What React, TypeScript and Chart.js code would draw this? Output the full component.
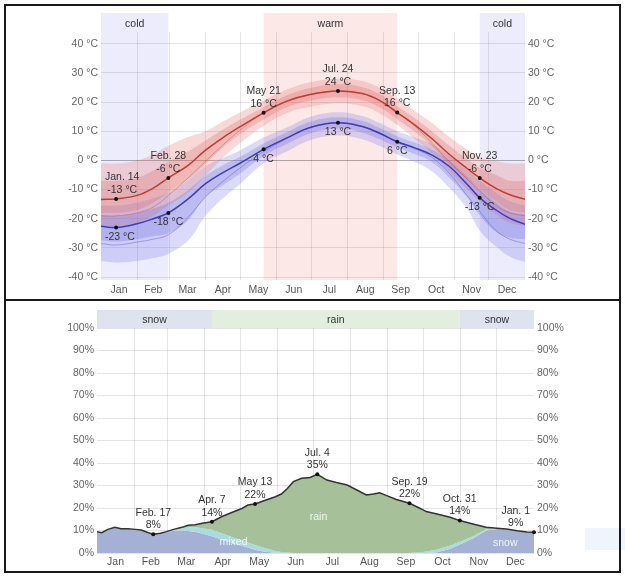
import React, { useEffect, useRef } from "react";
import { Chart, registerables } from "chart.js";

Chart.register(...registerables);

const FONT = '"Liberation Sans", Arial, Helvetica, sans-serif';
Chart.defaults.font.family = FONT;
Chart.defaults.font.size = 10.5;

// ---------- calendar ----------
const MONTHS = ["Jan", "Feb", "Mar", "Apr", "May", "Jun", "Jul", "Aug", "Sep", "Oct", "Nov", "Dec"];
const MONTH_BOUNDS = [31, 59, 90, 120, 151, 181, 212, 243, 273, 304, 334];
const MONTH_MIDS = [15.5, 45, 74.5, 105, 135.5, 166, 196.5, 227.5, 258, 288.5, 319, 349.5];

// ---------- temperature (°C) ----------
const TEMP_TICKS = [-40, -30, -20, -10, 0, 10, 20, 30, 40];
const TEMP_DAYS = [0, 13, 31, 45, 58, 75, 90, 105, 120, 140, 160, 180, 204, 225, 240, 255, 270, 285, 300, 315, 326, 340, 352, 365];
const HIGH = [-13.4, -13.2, -12, -9.5, -6, -1.7, 3.5, 7.8, 11.6, 16.3, 20.3, 22.6, 23.8, 22.9, 20.5, 16.4, 12.2, 7.4, 2, -2.7, -6, -9.6, -11.8, -13.3];
const HIGH_P90 = [-1, -1, 0, 2, 5, 8, 10, 13.3, 16.5, 20.5, 24.3, 26.8, 28, 27.2, 24.8, 21, 17, 12.8, 8, 3.8, 1, -0.3, -1, -1];
const HIGH_P75 = [-7, -7, -6, -3.5, -0.5, 3, 6.8, 10.6, 14, 18.2, 22.3, 24.8, 26.1, 25.1, 22.7, 18.6, 14.5, 9.9, 5, 0.5, -2.5, -5, -7, -7];
const HIGH_P25 = [-18, -18, -17, -14.5, -11, -6.5, -1.2, 4.4, 9, 14, 18.2, 20.4, 21.6, 20.6, 18.2, 14.1, 9.8, 4.8, -1.3, -6.5, -10, -14, -17, -18];
const HIGH_P10 = [-22.5, -22.5, -21.5, -19, -15.5, -11, -5.2, 0.9, 6, 11.8, 16.2, 18.4, 19.5, 18.6, 16.1, 12.1, 7.4, 2.4, -4, -10, -14, -18.5, -21.5, -22.5];
const LOW = [-22.6, -23, -21.7, -20, -18, -13.2, -8, -4.2, -0.9, 3.8, 7.7, 11.3, 12.9, 11.6, 9.3, 6.4, 4.3, 1.8, -2.1, -8.1, -12.8, -17, -19.9, -21.9];
const LOW_P90 = [-15.5, -15.5, -14.5, -13, -11, -6.7, -2, 0.8, 3.5, 7.8, 11.3, 14.9, 16.5, 15.2, 12.8, 10, 7.9, 5.4, 1.5, -3, -7, -11, -14, -15.5];
const LOW_P75 = [-18.8, -19, -18, -16.5, -14.5, -10.2, -5.3, -1.7, 1.3, 5.8, 9.6, 13.2, 14.8, 13.5, 11.1, 8.3, 6.1, 3.6, -0.2, -5.5, -10, -14.5, -17.5, -18.5];
const LOW_P25 = [-27.5, -27.8, -27, -26, -25, -20.5, -12.5, -8.5, -4.5, 1.5, 5.6, 9.2, 10.8, 9.5, 7.2, 4.4, 2.2, -0.6, -6, -12.5, -18.8, -24.5, -26.5, -27];
const LOW_P10 = [-34.5, -35, -34.5, -33.5, -32, -27.5, -19, -13, -8, -1, 3, 6.9, 8.5, 7.2, 4.9, 2, -0.5, -3.8, -9.5, -16.5, -24, -29.5, -33, -34.8];
const FEELS_HIGH = [-19, -19, -18, -16, -12, -6, -0.3, 5.3, 10.5, 16.3, 20.3, 22.6, 23.8, 22.9, 20.5, 16.4, 11.8, 5.8, -0.5, -6.3, -10.5, -15.5, -18, -19];
const FEELS_LOW = [-28.5, -29, -28, -27, -25.5, -19.5, -12.5, -7.2, -2.5, 3, 7.5, 11.3, 12.9, 11.6, 9.1, 6.2, 4, 1, -4.5, -12, -17.5, -24, -27, -28.5];

const TEMP_MARK_DAYS = [13, 58, 140, 204, 255, 326];
const TEMP_MARK_DATES = ["Jan. 14", "Feb. 28", "May 21", "Jul. 24", "Sep. 13", "Nov. 23"];

const TEMP_SEASONS = [
  { label: "cold", from: 0, to: 58 },
  { label: "warm", from: 140, to: 255 },
  { label: "cold", from: 326, to: 365 },
];

// ---------- precipitation (% chance) ----------
const PCT_TICKS = [0, 10, 20, 30, 40, 50, 60, 70, 80, 90, 100];
const PRECIP_DAYS = [0, 4, 9, 15, 20, 26, 32, 37, 43, 47, 53, 58, 64, 71, 76, 82, 88, 96, 104, 112, 121, 126, 132, 140, 149, 154, 159, 164, 171, 178, 184, 192, 200, 209, 217, 225, 231, 236, 242, 250, 261, 270, 275, 284, 295, 303, 314, 325, 334, 342, 351, 359, 365];
const PRECIP_TOTAL = [9.5, 9.0, 10.5, 11.4, 10.8, 10.8, 10.5, 10.2, 9.0, 8.3, 8.8, 9.5, 10.5, 11.4, 12.3, 12.6, 13.2, 13.9, 16.1, 17.9, 19.8, 21.3, 21.8, 23.3, 25.0, 26.2, 28.7, 31.7, 33.2, 33.6, 35.0, 32.4, 31.3, 30.2, 28.0, 25.8, 26.2, 26.8, 25.5, 23.8, 22.1, 19.8, 18.4, 17.3, 15.9, 14.4, 12.9, 11.4, 11.0, 10.7, 9.9, 9.3, 9.2];
const PRECIP_SNOW = [9.5, 9.0, 10.5, 11.4, 10.8, 10.8, 10.5, 10.2, 9.0, 8.3, 8.8, 9.3, 9.9, 10.0, 9.8, 9.4, 8.6, 7.5, 6.0, 4.6, 3.2, 2.4, 1.5, 0.6, 0.1, 0, 0, 0, 0, 0, 0, 0, 0, 0, 0, 0, 0, 0, 0, 0, 0, 0, 0, 0.3, 1.9, 3.8, 6.5, 10.0, 10.7, 10.7, 9.9, 9.3, 9.2];
const PRECIP_MIXED = [0, 0, 0, 0, 0, 0, 0, 0, 0, 0, 0, 0.2, 0.5, 1.0, 1.6, 2.0, 2.4, 2.8, 2.8, 2.6, 2.4, 2.3, 2.1, 1.6, 0.8, 0.4, 0.2, 0, 0, 0, 0, 0, 0, 0, 0, 0, 0, 0, 0, 0, 0, 0.3, 0.7, 1.3, 1.4, 1.2, 0.9, 0.6, 0.3, 0, 0, 0, 0];

const PRECIP_MARK_DAYS = [47, 96, 132, 184, 261, 303, 365];
const PRECIP_MARK_DATES = ["Feb. 17", "Apr. 7", "May 13", "Jul. 4", "Sep. 19", "Oct. 31", "Jan. 1"];

const PRECIP_SEASONS = [
  { label: "snow", from: 0, to: 96, kind: "snow" },
  { label: "rain", from: 96, to: 303, kind: "rain" },
  { label: "snow", from: 303, to: 365, kind: "snow" },
];

const AREA_LABELS = [
  { text: "mixed", day: 114, pct: 4.8 },
  { text: "rain", day: 185, pct: 16 },
  { text: "snow", day: 341, pct: 4.5 },
];

// ---------- styles ----------
const COLD_BG = "#ececfd";
const WARM_BG = "#fde8e8";
const SNOW_BG = "#dfe3ef";
const RAIN_BG = "#e2efdf";
const GRID = "rgba(0,0,0,0.1)";

const pts = (xs: number[], ys: number[]) => xs.map((x, i) => ({ x, y: ys[i] }));

type Mark = { day: number; value: number; title?: string; text: string; below?: boolean };

function drawMarks(chart: any, marks: Mark[]) {
  const { ctx, chartArea, scales } = chart;
  const x = scales.x;
  const y = scales.y;
  ctx.save();
  ctx.font = `10.5px ${FONT}`;
  ctx.textAlign = "center";
  ctx.textBaseline = "middle";
  for (const m of marks) {
    const px = x.getPixelForValue(m.day);
    const py = y.getPixelForValue(m.value);
    ctx.fillStyle = "#111";
    ctx.beginPath();
    ctx.arc(px, py, 2, 0, Math.PI * 2);
    ctx.fill();
    const lines = m.below ? [m.text] : [m.title || "", m.text];
    const w = Math.max(...lines.map((l) => ctx.measureText(l).width));
    const cx = Math.min(Math.max(px, chartArea.left + 4 + w / 2), chartArea.right - 4 - w / 2);
    ctx.fillStyle = "#333";
    if (m.below) {
      ctx.fillText(m.text, cx, py + 9.5);
    } else {
      ctx.fillText(m.title || "", cx, py - 21.5);
      ctx.fillText(m.text, cx, py - 9);
    }
  }
  ctx.restore();
}

const tempDecor = {
  id: "tempDecor",
  beforeDraw(chart: any) {
    const { ctx, chartArea, scales } = chart;
    const x = scales.x;
    ctx.save();
    for (const s of TEMP_SEASONS) {
      const x0 = x.getPixelForValue(s.from);
      const x1 = x.getPixelForValue(s.to);
      ctx.fillStyle = s.label === "cold" ? COLD_BG : WARM_BG;
      ctx.fillRect(x0, chartArea.top - 19, x1 - x0, chartArea.bottom - chartArea.top + 19);
      ctx.fillStyle = "#333";
      ctx.font = `10.5px ${FONT}`;
      ctx.textAlign = "center";
      ctx.textBaseline = "middle";
      ctx.fillText(s.label, (x0 + x1) / 2, chartArea.top - 8);
    }
    ctx.restore();
  },
  afterDraw(chart: any) {
    const marks: Mark[] = [];
    TEMP_MARK_DAYS.forEach((d, i) => {
      const k = TEMP_DAYS.indexOf(d);
      marks.push({ day: d, value: HIGH[k], title: TEMP_MARK_DATES[i], text: `${Math.round(HIGH[k])} °C` });
      marks.push({ day: d, value: LOW[k], text: `${Math.round(LOW[k])} °C`, below: true });
    });
    drawMarks(chart, marks);
  },
};

const precipDecor = {
  id: "precipDecor",
  beforeDraw(chart: any) {
    const { ctx, chartArea, scales } = chart;
    const x = scales.x;
    ctx.save();
    for (const s of PRECIP_SEASONS) {
      const x0 = x.getPixelForValue(s.from);
      const x1 = x.getPixelForValue(s.to);
      ctx.fillStyle = s.kind === "snow" ? SNOW_BG : RAIN_BG;
      ctx.fillRect(x0, chartArea.top - 18, x1 - x0, 18);
      ctx.fillStyle = "#333";
      ctx.font = `10.5px ${FONT}`;
      ctx.textAlign = "center";
      ctx.textBaseline = "middle";
      ctx.fillText(s.label, (x0 + x1) / 2, chartArea.top - 8);
    }
    ctx.restore();
  },
  afterDraw(chart: any) {
    const { ctx, scales } = chart;
    ctx.save();
    ctx.font = `10.5px ${FONT}`;
    ctx.textAlign = "center";
    ctx.textBaseline = "middle";
    ctx.fillStyle = "rgba(255,255,255,0.85)";
    for (const a of AREA_LABELS) {
      ctx.fillText(a.text, scales.x.getPixelForValue(a.day), scales.y.getPixelForValue(a.pct));
    }
    ctx.restore();
    const marks: Mark[] = PRECIP_MARK_DAYS.map((d, i) => {
      const k = PRECIP_DAYS.indexOf(d);
      return { day: d, value: PRECIP_TOTAL[k], title: PRECIP_MARK_DATES[i], text: `${Math.round(PRECIP_TOTAL[k])}%` };
    });
    drawMarks(chart, marks);
  },
};

function xScales(labelHeight: number, labelPad: number) {
  return {
    x: {
      type: "linear",
      min: 0,
      max: 365,
      position: "bottom",
      afterBuildTicks: (s: any) => {
        s.ticks = MONTH_MIDS.map((v) => ({ value: v }));
      },
      ticks: {
        autoSkip: false,
        maxRotation: 0,
        padding: labelPad,
        color: "#555",
        font: { size: 10.5 },
        callback: (_v: any, i: number) => MONTHS[i],
      },
      grid: { display: false, drawTicks: false },
      border: { display: false },
      afterFit: (s: any) => {
        s.height = labelHeight;
      },
    },
    xg: {
      type: "linear",
      min: 0,
      max: 365,
      position: "bottom",
      z: 1,
      afterBuildTicks: (s: any) => {
        s.ticks = MONTH_BOUNDS.map((v) => ({ value: v }));
      },
      ticks: { display: false },
      grid: { color: GRID, drawTicks: false },
      border: { display: false },
      afterFit: (s: any) => {
        s.height = 0;
      },
    },
  };
}

function yScales(min: number, max: number, ticks: number[], fmt: (v: number) => string, leftW: number, rightW: number, zeroColor: string) {
  const common = {
    type: "linear",
    min,
    max,
    afterBuildTicks: (s: any) => {
      s.ticks = ticks.map((v) => ({ value: v }));
    },
    ticks: { padding: 3, color: "#666", font: { size: 10.5 }, callback: (v: any) => fmt(v) },
    border: { display: false },
  };
  return {
    y: {
      ...common,
      position: "left",
      z: 1,
      grid: {
        color: (c: any) => (c.tick && c.tick.value === 0 ? zeroColor : GRID),
        drawTicks: false,
      },
      afterFit: (s: any) => {
        s.width = leftW;
      },
    },
    y2: {
      ...common,
      position: "right",
      grid: { display: false, drawTicks: false },
      afterFit: (s: any) => {
        s.width = rightW;
      },
    },
  };
}

function band(data: number[], fillTarget: number | false, color: string, order: number) {
  return {
    data: pts(TEMP_DAYS, data),
    xAxisID: "x",
    yAxisID: "y",
    borderWidth: 0,
    borderColor: "transparent",
    backgroundColor: color,
    fill: fillTarget,
    pointRadius: 0,
    tension: 0.4,
    order,
  };
}

function line(data: number[], color: string, width: number, order: number) {
  return {
    data: pts(TEMP_DAYS, data),
    xAxisID: "x",
    yAxisID: "y",
    borderWidth: width,
    borderColor: color,
    fill: false,
    pointRadius: 0,
    tension: 0.4,
    order,
  };
}

function tempConfig(): any {
  return {
    type: "line",
    data: {
      datasets: [
        band(HIGH_P90, 1, "rgba(230,120,115,0.28)", 10), // 0
        band(HIGH_P10, false, "transparent", 10), // 1
        band(HIGH_P75, 3, "rgba(215,90,85,0.25)", 9), // 2
        band(HIGH_P25, false, "transparent", 9), // 3
        band(LOW_P90, 5, "rgba(125,125,235,0.28)", 10), // 4
        band(LOW_P10, false, "transparent", 10), // 5
        band(LOW_P75, 7, "rgba(95,95,220,0.25)", 9), // 6
        band(LOW_P25, false, "transparent", 9), // 7
        line(FEELS_HIGH, "rgba(190,60,50,0.45)", 0.8, 5), // 8
        line(FEELS_LOW, "rgba(60,60,190,0.45)", 0.8, 5), // 9
        line(HIGH, "#c23b2e", 1.5, 1), // 10
        line(LOW, "#3d3db8", 1.5, 1), // 11
      ],
    },
    options: {
      responsive: false,
      animation: false,
      layout: { padding: { top: 32, left: 0, right: 0, bottom: 0 } },
      plugins: { legend: { display: false }, tooltip: { enabled: false } },
      scales: {
        ...xScales(20, 4),
        ...yScales(-41, 44, TEMP_TICKS, (v) => `${v} °C`, 101, 100, "rgba(0,0,0,0.3)"),
      },
    },
    plugins: [tempDecor],
  };
}

function precipConfig(): any {
  const snowTop = PRECIP_SNOW;
  const mixedTop = PRECIP_SNOW.map((s, i) => s + PRECIP_MIXED[i]);
  return {
    type: "line",
    data: {
      datasets: [
        {
          data: pts(PRECIP_DAYS, PRECIP_TOTAL),
          xAxisID: "x",
          yAxisID: "y",
          borderColor: "#333",
          borderWidth: 1.5,
          backgroundColor: "rgb(166,193,153)",
          fill: 1,
          pointRadius: 0,
          tension: 0,
        },
        {
          data: pts(PRECIP_DAYS, mixedTop),
          xAxisID: "x",
          yAxisID: "y",
          borderWidth: 0,
          borderColor: "transparent",
          backgroundColor: "rgb(170,219,223)",
          fill: 2,
          pointRadius: 0,
          tension: 0,
        },
        {
          data: pts(PRECIP_DAYS, snowTop),
          xAxisID: "x",
          yAxisID: "y",
          borderWidth: 0,
          borderColor: "transparent",
          backgroundColor: "rgb(164,177,212)",
          fill: "origin",
          pointRadius: 0,
          tension: 0,
        },
      ],
    },
    options: {
      responsive: false,
      animation: false,
      layout: { padding: { top: 28, left: 0, right: 0, bottom: 0 } },
      plugins: { legend: { display: false }, tooltip: { enabled: false } },
      scales: {
        ...xScales(25, 3),
        ...yScales(0, 100, PCT_TICKS, (v) => `${v}%`, 97, 91, GRID),
      },
    },
    plugins: [precipDecor],
  };
}

export default function App() {
  const topRef = useRef<HTMLCanvasElement>(null);
  const botRef = useRef<HTMLCanvasElement>(null);

  useEffect(() => {
    const c1 = new Chart(topRef.current as HTMLCanvasElement, tempConfig());
    const c2 = new Chart(botRef.current as HTMLCanvasElement, precipConfig());
    return () => {
      c1.destroy();
      c2.destroy();
    };
  }, []);

  return (
    <div style={{ position: "absolute", left: 0, top: 0, width: 625, height: 578, background: "#fff", overflow: "hidden" }}>
      <div style={{ position: "absolute", left: 585, top: 528, width: 40, height: 22, background: "#eef5fc" }} />
      <canvas ref={topRef} width={625} height={300} style={{ position: "absolute", left: 0, top: 0, width: 625, height: 300 }} />
      <canvas ref={botRef} width={625} height={278} style={{ position: "absolute", left: 0, top: 300, width: 625, height: 278 }} />
      <div style={{ position: "absolute", left: 4, top: 4, width: 617, height: 297, border: "2px solid #1a1a1a", boxSizing: "border-box", pointerEvents: "none" }} />
      <div style={{ position: "absolute", left: 4, top: 299, width: 617, height: 274, border: "2px solid #1a1a1a", boxSizing: "border-box", pointerEvents: "none" }} />
    </div>
  );
}
